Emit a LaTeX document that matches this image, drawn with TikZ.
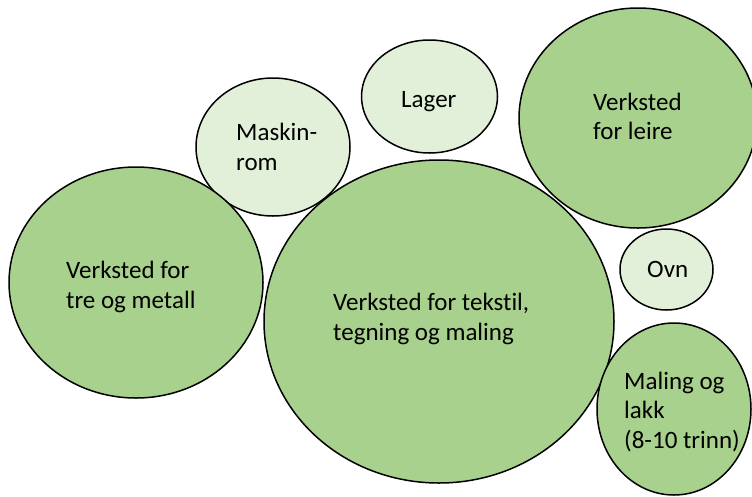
\documentclass[tikz,border=0pt]{standalone}
\usepackage{fontspec}
\setmainfont{Carlito}[Ligatures=NoCommon]
\usetikzlibrary{shapes.geometric}
\definecolor{roomgreen}{HTML}{A9D18E}
\definecolor{sidegreen}{HTML}{E2F0D9}
\begin{document}
\begin{tikzpicture}[x=1pt,y=-1pt,
		room/.style={ellipse,draw=black,line width=1.5pt,fill=roomgreen,inner sep=0pt},
		side/.style={room,fill=sidegreen},
		roomtext/.style={anchor=base west,align=left,inner sep=0pt,font=\fontsize{25}{29.5}\selectfont}]
	\useasboundingbox (0,0) rectangle (752,496);
	% rooms
	\node [side,minimum width=136pt,minimum height=113pt] (lager) at (429.5,96.5) {};
	\node [side,minimum width=154pt,minimum height=138pt] (maskin) at (273,147) {};
	\node [room,minimum width=238pt,minimum height=220pt] (leire) at (638,118) {};
	\node [room,minimum width=254pt,minimum height=231pt] (tre) at (136,282.5) {};
	\node [room,minimum width=350pt,minimum height=323pt] (tekstil) at (439,321.5) {};
	\node [side,minimum width=93pt,minimum height=81pt] (ovn) at (666.5,269.5) {};
	\node [room,minimum width=154pt,minimum height=172pt] (lakk) at (674,409) {};
	% labels (anchored at the baseline of the last line)
	\node [roomtext] (lagertxt) at (401,107) {Lager};
	\node [roomtext] (maskintxt) at (236,170) {Maskin-\\rom};
	\node [roomtext] (leiretxt) at (593,139.5) {Verksted\\for leire};
	\node [roomtext] (tretxt) at (66,308) {Verksted for\\tre og metall};
	\node [roomtext] (tekstiltxt) at (333,340) {Verksted for tekstil,\\tegning og maling};
	\node [roomtext] (ovntxt) at (647,277) {Ovn};
	\node [roomtext] (lakktxt) at (624,448) {Maling og\\lakk\\(8-10 trinn)};
\end{tikzpicture}
\end{document}
